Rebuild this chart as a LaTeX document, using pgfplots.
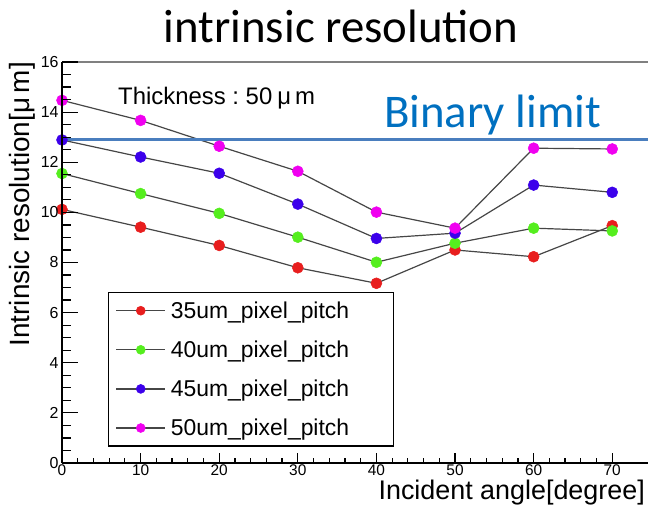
\documentclass[border=0pt]{standalone}
\usepackage{pgfplots}
\pgfplotsset{compat=1.18}
\usepackage{pgfplotstable}
\usepackage{fontspec}
\setmainfont{Liberation Sans}
\newfontfamily\calibri{Carlito}
\definecolor{cred}{RGB}{232,30,30}
\definecolor{cgreen}{RGB}{85,238,30}
\definecolor{cblue}{RGB}{60,0,235}
\definecolor{cmag}{RGB}{240,0,240}
\definecolor{lgray}{RGB}{70,70,70}
\definecolor{blim}{RGB}{74,126,190}
\definecolor{btext}{RGB}{0,112,192}

\pgfplotstableread{
x  p35   p40   p45   p50
0  10.12 11.55 12.89 14.47
10 9.41  10.75 12.21 13.67
20 8.68  9.96  11.56 12.64
30 7.79  9.01  10.33 11.64
40 7.17  8.01  8.96  10.01
50 8.50  8.77  9.17  9.37
60 8.23  9.37  11.09 12.56
70 9.47  9.26  10.80 12.53
}\datatable

\begin{document}
\begin{tikzpicture}
\begin{axis}[
  at={(0,0)}, anchor=south west,
  scale only axis, width=586bp, height=401bp,
  xmin=0, xmax=74.55, ymin=0, ymax=16,
  clip=false,
  axis x line*=bottom, axis y line*=left,
  axis line style={-, line width=1.8bp, black},
  xtick={0,10,...,70}, minor x tick num=4,
  ytick=\empty,
  tick align=inside,
  major tick length=10bp, minor tick length=5bp,
  every tick/.style={black, line width=1.2bp},
  xticklabel style={font=\fontsize{15.5}{18}\selectfont, inner ysep=1.5bp},
  /pgf/number format/assume math mode=true,
  legend cell align=left,
  legend style={at={(0.0785,0.4264)}, anchor=north west, draw=black, line width=1.3bp,
    fill=white, inner xsep=7bp, inner ysep=6bp, row sep=15bp,
    font=\fontsize{23}{27}\selectfont,
    nodes={inner xsep=5bp, inner ysep=3bp}},
  legend image code/.code={\draw[mark repeat=2,mark phase=2,mark size=4.5bp]
     plot coordinates {(0bp,0bp) (24.5bp,0bp) (49bp,0bp)};},
]
\addplot[color=lgray, line width=1.2bp, mark=*, mark size=5.5bp, mark options={draw=cred, fill=cred, solid, line width=0.5bp}] table[x=x, y=p35] {\datatable};
\addlegendentry{35um\_pixel\_pitch\hspace*{32bp}}
\addplot[color=lgray, line width=1.2bp, mark=*, mark size=5.5bp, mark options={draw=cgreen, fill=cgreen, solid, line width=0.5bp}] table[x=x, y=p40] {\datatable};
\addlegendentry{40um\_pixel\_pitch\hspace*{32bp}}
\addplot[color=lgray, line width=1.2bp, mark=*, mark size=5.5bp, mark options={draw=cblue, fill=cblue, solid, line width=0.5bp}] table[x=x, y=p45] {\datatable};
\addlegendentry{45um\_pixel\_pitch\hspace*{32bp}}
\addplot[color=lgray, line width=1.2bp, mark=*, mark size=5.5bp, mark options={draw=cmag, fill=cmag, solid, line width=0.5bp}] table[x=x, y=p50] {\datatable};
\addlegendentry{50um\_pixel\_pitch\hspace*{32bp}}
\addplot[forget plot, blim, line width=3bp, no marks] coordinates {(0,12.89) (74.55,12.89)};
\draw[gray, line width=2bp] (rel axis cs:0,1) -- (rel axis cs:1,1);
\end{axis}
\begin{axis}[
  at={(0,0)}, anchor=south west,
  scale only axis, width=586bp, height=401bp,
  xmin=0, xmax=74.55, ymin=0, ymax=16,
  hide x axis, axis y line*=left,
  axis line style={-, line width=1.8bp, black},
  ytick={0,2,...,16}, minor y tick num=3, tick align=inside,
  major tick length=16bp, minor tick length=9bp,
  every tick/.style={black, line width=1.2bp},
  yticklabel style={font=\fontsize{16}{18}\selectfont},
  /pgf/number format/assume math mode=true,
]
\end{axis}
\node[font=\calibri\fontsize{47}{50}\selectfont, anchor=base, inner sep=0pt] at (279bp,420bp) {intrinsic resolution};
\node[font=\calibri\fontsize{47}{50}\selectfont, text=btext, anchor=base west, inner sep=0pt] at (322bp,335bp) {Binary limit};
\node[font=\fontsize{24}{28}\selectfont, anchor=base west, inner sep=0pt] at (56bp,358bp) {Thickness :\ 50\hspace{5bp}μ\hspace{4bp}m};
\node[rotate=90, anchor=east, font=\fontsize{28}{32}\selectfont, inner sep=0pt] at (-40bp,401bp) {Intrinsic resolution[μ\,m]};
\node[anchor=base east, font=\fontsize{27}{32}\selectfont, inner sep=0pt] at (583bp,-36.2bp) {Incident angle[degree]};
\pgfresetboundingbox
\path (-62bp,-42bp) rectangle (586bp,463bp);
\end{tikzpicture}
\end{document}
